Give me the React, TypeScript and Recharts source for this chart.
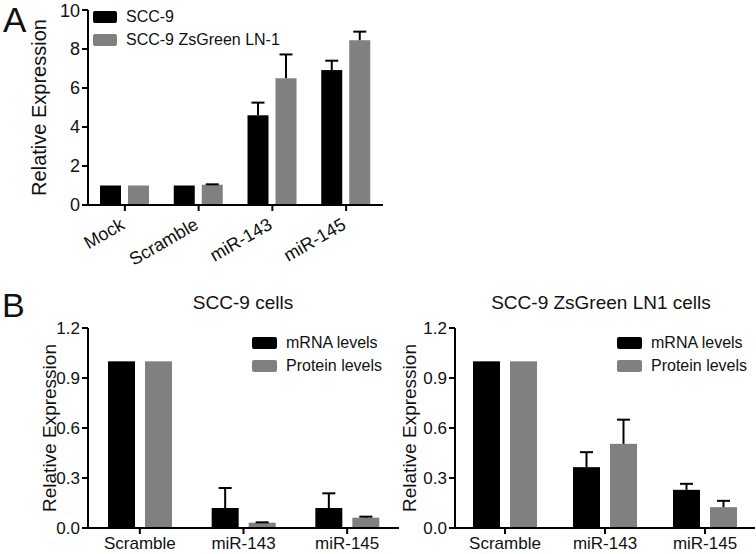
import React from 'react';
import { BarChart, Bar, XAxis, YAxis } from 'recharts';

// Panel A data
const categoriesA = ['Mock', 'Scramble', 'miR-143', 'miR-145'];
const scc9 = [1.0, 1.0, 4.6, 6.92];
const scc9Err = [0, 0, 0.65, 0.48];
const ln1 = [1.0, 1.04, 6.5, 8.45];
const ln1Err = [0, 0.02, 1.22, 0.44];
const legendA = ['SCC-9', 'SCC-9 ZsGreen LN-1'];
const ticksA = [0, 2, 4, 6, 8, 10];

// Panel B data
const categoriesB = ['Scramble', 'miR-143', 'miR-145'];
const mrnaLeft = [1.0, 0.12, 0.12];
const mrnaLeftErr = [0, 0.12, 0.088];
const protLeft = [1.0, 0.032, 0.062];
const protLeftErr = [0, 0.002, 0.006];
const mrnaRight = [1.0, 0.365, 0.229];
const mrnaRightErr = [0, 0.09, 0.036];
const protRight = [1.0, 0.505, 0.125];
const protRightErr = [0, 0.145, 0.038];
const legendB = ['mRNA levels', 'Protein levels'];
const ticksB = [0, 0.3, 0.6, 0.9, 1.2];

const BLACK = '#000000';
const GRAY = '#808080';
const FONT = '"Liberation Sans", Arial, sans-serif';

const dataA = categoriesA.map((name, i) => ({ name, a: scc9[i], b: ln1[i] }));
const dataBLeft = categoriesB.map((name, i) => ({ name, a: mrnaLeft[i], b: protLeft[i] }));
const dataBRight = categoriesB.map((name, i) => ({ name, a: mrnaRight[i], b: protRight[i] }));

// bar with a one-sided (upper) error bar, scaled from the bar's own height
const errShape = (values: number[], errs: number[], capW: number) => (props: any) => {
  const { x, y, width, height, fill, index } = props;
  const v = values[index];
  const e = errs[index];
  const errPx = v ? (height / v) * e : 0;
  const cx = x + width / 2;
  return (
    <g>
      <rect x={x} y={y} width={width} height={height} fill={fill} />
      {e > 0 && (
        <g stroke="#000" strokeWidth={2}>
          <line x1={cx} y1={y} x2={cx} y2={y - errPx} />
          <line x1={cx - capW / 2} y1={y - errPx} x2={cx + capW / 2} y2={y - errPx} />
        </g>
      )}
    </g>
  );
};

// rotated category label for panel A
const RotTick = (props: any) => {
  const { x, y, payload } = props;
  return (
    <text
      x={x + 1}
      y={y + 15}
      textAnchor="end"
      fontSize={18}
      fontFamily={FONT}
      fill="#111"
      transform={`rotate(-30, ${x + 1}, ${y + 15})`}
    >
      {payload.value}
    </text>
  );
};

// y-axis title, centred on the plot
const YTitle = ({ viewBox, shift, size }: any) => {
  const cx = viewBox.x + viewBox.width / 2 + shift;
  const cy = viewBox.y + viewBox.height / 2;
  return (
    <text
      x={cx}
      y={cy}
      textAnchor="middle"
      dominantBaseline="central"
      fontSize={size}
      fontFamily={FONT}
      fill="#111"
      transform={`rotate(-90, ${cx}, ${cy})`}
    >
      Relative Expression
    </text>
  );
};

const LegendBox = ({ items, left, top, boxW, rowH }: any) => (
  <div style={{ position: 'absolute', left, top, fontFamily: FONT, fontSize: 16, color: '#111' }}>
    {items.map((name: string, i: number) => (
      <div key={name} style={{ display: 'flex', alignItems: 'center', height: rowH }}>
        <span
          style={{
            display: 'inline-block',
            width: boxW,
            height: 12,
            borderRadius: 2,
            background: i === 0 ? BLACK : GRAY,
            marginRight: 9,
          }}
        />
        <span style={{ whiteSpace: 'nowrap' }}>{name}</span>
      </div>
    ))}
  </div>
);

const axisLine = { stroke: '#000', strokeWidth: 2 };

const PanelB = ({ data, mrna, mrnaErr, prot, protErr, width, yWidth, shift }: any) => (
  <BarChart
    width={width}
    height={274}
    data={data}
    margin={{ top: 48, right: 1, left: 0, bottom: 0 }}
    barSize={27}
    barGap={10}
  >
    <XAxis
      dataKey="name"
      height={26}
      interval={0}
      tickSize={6}
      tickMargin={3}
      axisLine={axisLine}
      tickLine={axisLine}
      tick={{ fontSize: 17, fill: '#111', fontFamily: FONT }}
    />
    <YAxis
      width={yWidth}
      domain={[0, 1.2]}
      ticks={ticksB}
      tickFormatter={(v: number) => v.toFixed(1)}
      tickSize={6}
      tickMargin={2}
      axisLine={axisLine}
      tickLine={axisLine}
      tick={{ fontSize: 17, fill: '#111', fontFamily: FONT }}
      label={<YTitle shift={shift} size={19} />}
    />
    <Bar dataKey="a" fill={BLACK} isAnimationActive={false} shape={errShape(mrna, mrnaErr, 13)} />
    <Bar dataKey="b" fill={GRAY} isAnimationActive={false} shape={errShape(prot, protErr, 13)} />
  </BarChart>
);

export default function App() {
  return (
    <div
      style={{
        position: 'absolute',
        left: 0,
        top: 0,
        width: 756,
        height: 554,
        background: '#fff',
        overflow: 'hidden',
        fontFamily: FONT,
      }}
    >
      {/* Panel A */}
      <div style={{ position: 'absolute', left: 0, top: 0 }}>
        <BarChart
          width={400}
          height={280}
          data={dataA}
          margin={{ top: 10, right: 17, left: 0, bottom: 0 }}
          barSize={21}
          barGap={7}
        >
          <XAxis
            dataKey="name"
            height={75}
            interval={0}
            tickSize={6}
            tickMargin={2}
            axisLine={axisLine}
            tickLine={axisLine}
            tick={<RotTick />}
          />
          <YAxis
            width={88}
            domain={[0, 10]}
            ticks={ticksA}
            tickSize={6}
            tickMargin={2}
            axisLine={axisLine}
            tickLine={axisLine}
            tick={{ fontSize: 18, fill: '#111', fontFamily: FONT }}
            label={<YTitle shift={-5} size={20} />}
          />
          <Bar dataKey="a" fill={BLACK} isAnimationActive={false} shape={errShape(scc9, scc9Err, 13)} />
          <Bar dataKey="b" fill={GRAY} isAnimationActive={false} shape={errShape(ln1, ln1Err, 13)} />
        </BarChart>
      </div>
      <LegendBox items={legendA} left={93} top={5.5} boxW={24} rowH={23} />

      {/* Panel B, left */}
      <div style={{ position: 'absolute', left: 0, top: 280 }}>
        <PanelB
          data={dataBLeft}
          mrna={mrnaLeft}
          mrnaErr={mrnaLeftErr}
          prot={protLeft}
          protErr={protLeftErr}
          width={400}
          yWidth={88}
          shift={5}
        />
      </div>
      <LegendBox items={legendB} left={252} top={331.5} boxW={25} rowH={23} />

      {/* Panel B, right */}
      <div style={{ position: 'absolute', left: 378, top: 280 }}>
        <PanelB
          data={dataBRight}
          mrna={mrnaRight}
          mrnaErr={mrnaRightErr}
          prot={protRight}
          protErr={protRightErr}
          width={378}
          yWidth={77}
          shift={-7}
        />
      </div>
      <LegendBox items={legendB} left={617} top={331.5} boxW={25} rowH={23} />

      {/* panel letters and titles */}
      <div style={{ position: 'absolute', left: 3, top: 2, fontSize: 35, lineHeight: '35px', color: '#111' }}>A</div>
      <div style={{ position: 'absolute', left: 2, top: 288, fontSize: 34, lineHeight: '34px', color: '#111' }}>B</div>
      <div
        style={{ position: 'absolute', left: 143, width: 200, top: 293, textAlign: 'center', fontSize: 19, lineHeight: '19px', color: '#111' }}
      >
        SCC-9 cells
      </div>
      <div
        style={{ position: 'absolute', left: 481, width: 240, top: 293, textAlign: 'center', fontSize: 19, lineHeight: '19px', color: '#111' }}
      >
        SCC-9 ZsGreen LN1 cells
      </div>
    </div>
  );
}
